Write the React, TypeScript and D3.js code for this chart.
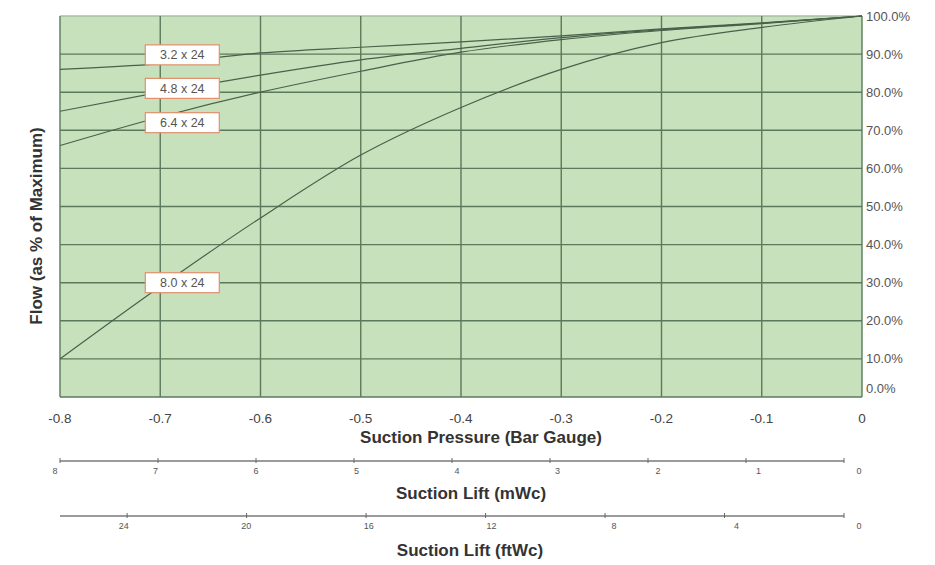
import React from "react";
import * as d3 from "d3";

const pressureTicks = [-0.8, -0.7, -0.6, -0.5, -0.4, -0.3, -0.2, -0.1, 0];
const pressureTickLabels = ["-0.8", "-0.7", "-0.6", "-0.5", "-0.4", "-0.3", "-0.2", "-0.1", "0"];
const flowTicks = [0, 0.1, 0.2, 0.3, 0.4, 0.5, 0.6, 0.7, 0.8, 0.9, 1.0];
const mwcTicks = [8, 7, 6, 5, 4, 3, 2, 1, 0];
const ftwcTicks = [24, 20, 16, 12, 8, 4, 0];
const FT_TO_M = 0.3048;

const seriesNames = ["3.2 x 24", "4.8 x 24", "6.4 x 24", "8.0 x 24"];
const s32 = [0.86, 0.875, 0.903, 0.918, 0.932, 0.948, 0.966, 0.982, 1.0];
const s48 = [0.75, 0.80, 0.845, 0.885, 0.915, 0.943, 0.964, 0.981, 1.0];
const s64 = [0.66, 0.735, 0.80, 0.855, 0.905, 0.938, 0.962, 0.98, 1.0];
const s80 = [0.10, 0.29, 0.47, 0.635, 0.76, 0.86, 0.93, 0.97, 1.0];
const seriesValues = [s32, s48, s64, s80];

// label annotation anchors (pressure, flow)
const labelX = [-0.678, -0.678, -0.678, -0.678];
const labelY = [0.898, 0.81, 0.72, 0.30];

export default function App() {
  const W = 935, H = 565;
  const x = d3.scaleLinear().domain([-0.8, 0]).range([60, 862]);
  const y = d3.scaleLinear().domain([0, 1]).range([397, 16]);
  // secondary axes
  const mTick = d3.scaleLinear().domain([8, 0]).range([60, 844]);
  const mLabel = d3.scaleLinear().domain([8, 0]).range([55, 859]);
  const mAxisY = 461;
  const fAxisY = 516;

  const line = d3
    .line<number>()
    .x((_, i) => x(pressureTicks[i]))
    .y((d) => y(d))
    .curve(d3.curveMonotoneX);

  const font = "Arial, 'Liberation Sans', sans-serif";
  const gridColor = "#5b7a5b";

  return (
    <div style={{ position: "absolute", left: 0, top: 0 }}>
      <svg width={W} height={H} style={{ display: "block", background: "#fff" }} fontFamily={font}>
        <rect x={x(-0.8)} y={y(1)} width={x(0) - x(-0.8)} height={y(0) - y(1)} fill="#c7e1bd" />
        {/* horizontal gridlines */}
        {flowTicks.map((t) => (
          <line key={"h" + t} x1={x(-0.8)} x2={x(0)} y1={y(t)} y2={y(t)} stroke={t === 1 ? "#a8bfa3" : gridColor} strokeWidth={t === 1 ? 1.5 : 1.4} />
        ))}
        {/* vertical gridlines */}
        {pressureTicks.map((t) => (
          <line key={"v" + t} x1={x(t)} x2={x(t)} y1={y(1)} y2={y(0)} stroke={gridColor} strokeWidth={1.4} />
        ))}
        {/* curves */}
        {seriesValues.map((s, i) => (
          <path key={"s" + i} d={line(s) || ""} fill="none" stroke="#4a604a" strokeWidth={1.2} />
        ))}
        {/* labels */}
        {seriesNames.map((n, i) => (
          <g key={"l" + i} transform={`translate(${x(labelX[i])},${y(labelY[i])})`}>
            <rect x={-37} y={-10} width={74} height={20} fill="#fff" stroke="#e0906c" strokeWidth={1.2} />
            <text x={0} y={4.5} textAnchor="middle" fontSize={12.5} fill="#555">{n}</text>
          </g>
        ))}
        {/* right axis labels */}
        {flowTicks.map((t) => (
          <text key={"r" + t} x={866} y={y(t) + 4.5 - (t === 0 ? 9 : 0)} fontSize={13} fill="#555">
            {(t * 100).toFixed(1) + "%"}
          </text>
        ))}
        {/* bottom pressure tick labels */}
        {pressureTicks.map((t, i) => (
          <text key={"b" + t} x={x(t)} y={423} textAnchor="middle" fontSize={13.5} fill="#444">
            {pressureTickLabels[i]}
          </text>
        ))}
        <text x={481} y={443} textAnchor="middle" fontSize={17} fontWeight="bold" fill="#333">
          Suction Pressure (Bar Gauge)
        </text>
        {/* mWc axis */}
        <line x1={mTick(8)} x2={mTick(0)} y1={mAxisY} y2={mAxisY} stroke="#7a7a7a" strokeWidth={1.4} />
        {mwcTicks.map((t) => (
          <g key={"m" + t}>
            <line x1={mTick(t)} x2={mTick(t)} y1={mAxisY - 3} y2={mAxisY + 2} stroke="#666" strokeWidth={1} />
            <text x={mLabel(t)} y={mAxisY + 13} textAnchor="middle" fontSize={9} fill="#555">{t}</text>
          </g>
        ))}
        <text x={471} y={499} textAnchor="middle" fontSize={17} fontWeight="bold" fill="#333">
          Suction Lift (mWc)
        </text>
        {/* ftWc axis */}
        <line x1={mTick(8)} x2={mTick(0)} y1={fAxisY} y2={fAxisY} stroke="#7a7a7a" strokeWidth={1.4} />
        {ftwcTicks.map((t) => (
          <g key={"f" + t}>
            <line x1={mTick(t * FT_TO_M)} x2={mTick(t * FT_TO_M)} y1={fAxisY - 3} y2={fAxisY + 2} stroke="#666" strokeWidth={1} />
            <text x={mLabel(t * FT_TO_M)} y={fAxisY + 13} textAnchor="middle" fontSize={9} fill="#555">{t}</text>
          </g>
        ))}
        <text x={470} y={556} textAnchor="middle" fontSize={17} fontWeight="bold" fill="#333">
          Suction Lift (ftWc)
        </text>
        {/* y title */}
        <text transform="translate(42,226) rotate(-90)" textAnchor="middle" fontSize={17} fontWeight="bold" fill="#333">
          Flow (as % of Maximum)
        </text>
      </svg>
    </div>
  );
}
